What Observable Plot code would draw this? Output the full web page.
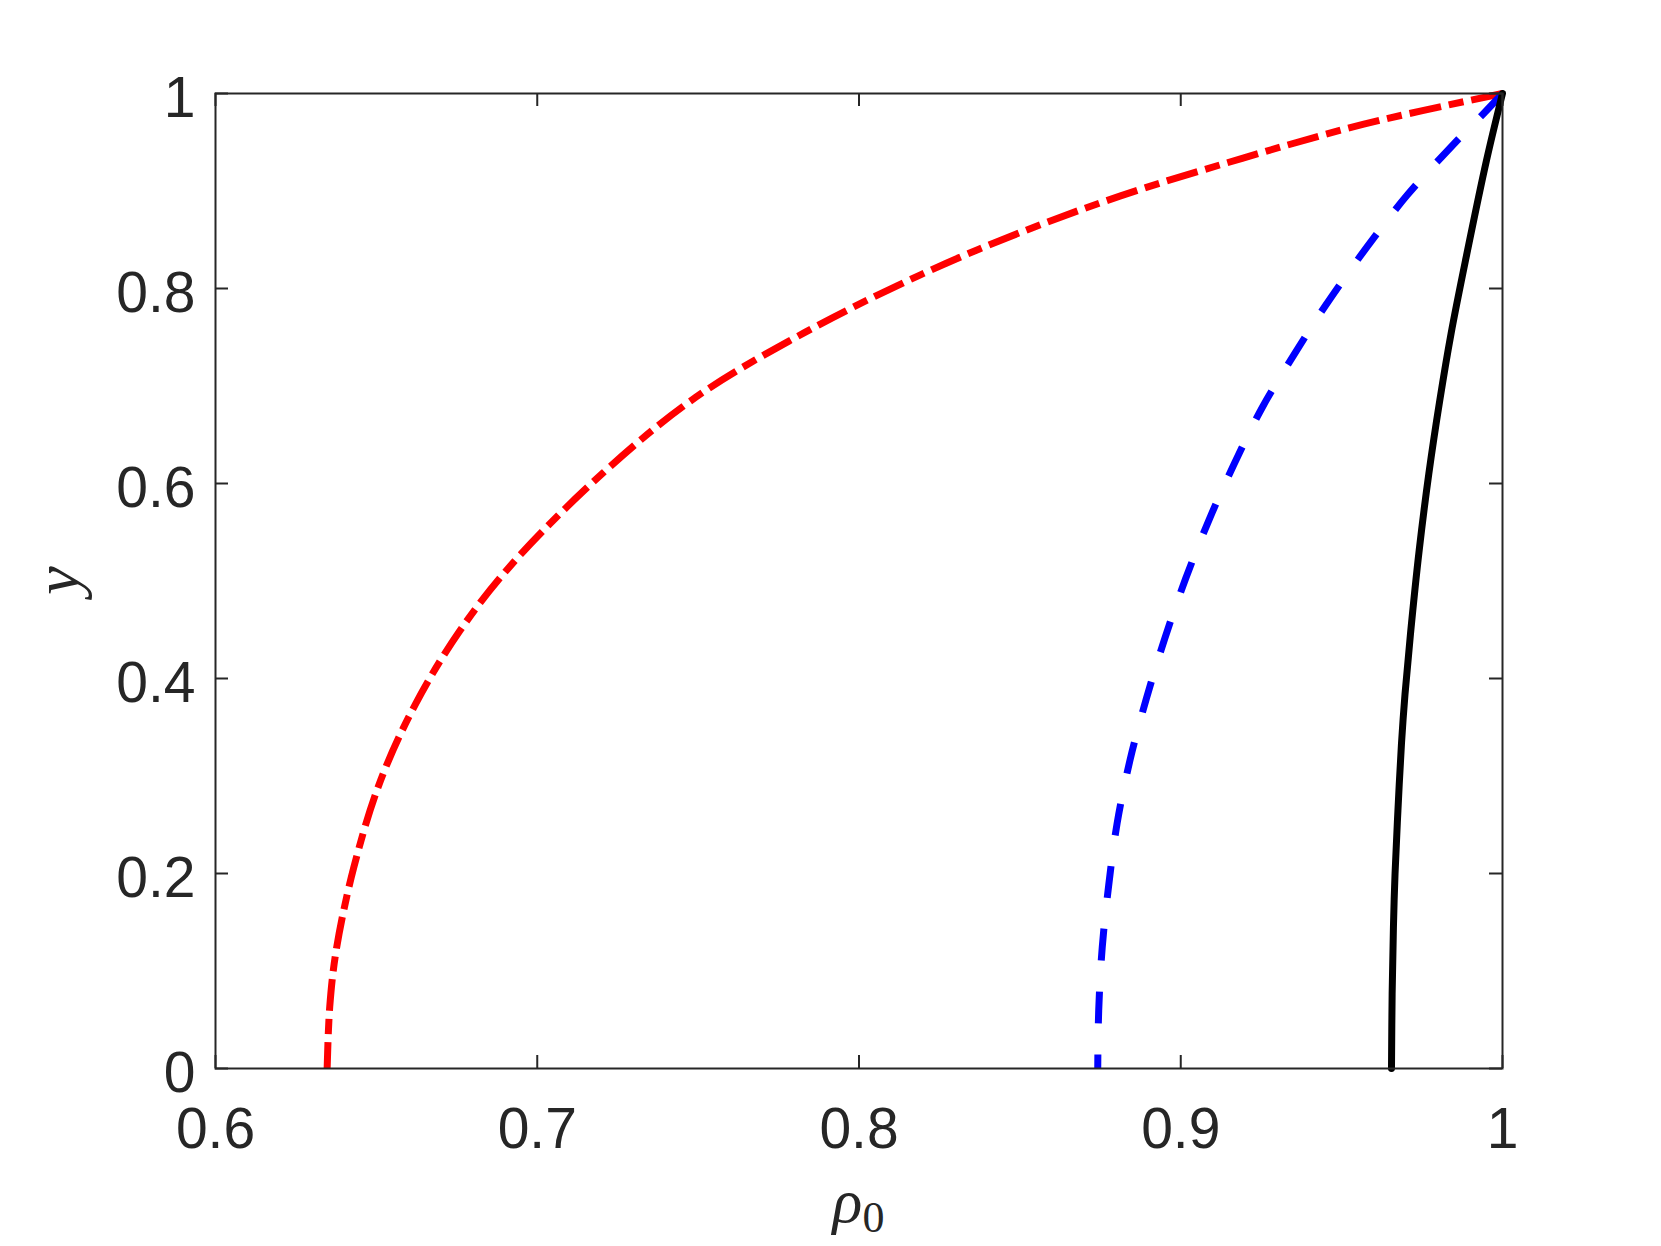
<!DOCTYPE html>
<html>
<head>
<meta charset="utf-8">
<script src="https://cdn.jsdelivr.net/npm/d3@7"></script>
<script src="https://cdn.jsdelivr.net/npm/@observablehq/plot@0.6"></script>
<style>
html, body { margin: 0; padding: 0; background: #ffffff; }
#chart svg { display: block; }
</style>
</head>
<body>
<div id="chart"></div>
<script>
// ---- tick values and labels ----
const xTicks = [0.6, 0.7, 0.8, 0.9, 1];
const xTickLabels = ["0.6", "0.7", "0.8", "0.9", "1"];
const yTicks = [0, 0.2, 0.4, 0.6, 0.8, 1];
const yTickLabels = ["0", "0.2", "0.4", "0.6", "0.8", "1"];

// ---- red dash-dot curve ----
const redRho = [0.6347, 0.6355, 0.6375, 0.6430, 0.6513, 0.6622, 0.6760, 0.6922, 0.7207, 0.7493,
                0.7829, 0.8191, 0.8491, 0.8813, 0.9191, 0.9569, 1.0];
const redY   = [0.0, 0.0630, 0.1210, 0.2065, 0.2954, 0.3740, 0.4492, 0.5176, 0.6116, 0.6885,
                0.7545, 0.8140, 0.8561, 0.8950, 0.9335, 0.9685, 1.0];

// ---- blue dashed curve ----
const blueRho = [0.8742, 0.8745, 0.8756, 0.8776, 0.8802, 0.8842, 0.8893, 0.8950, 0.9015, 0.9087,
                 0.9167, 0.9255, 0.9357, 0.9450, 0.9579, 0.9704, 0.9859, 0.9940, 1.0];
const blueY   = [0.0, 0.0595, 0.1244, 0.1877, 0.2510, 0.3159, 0.3792, 0.4407, 0.5022, 0.5620,
                 0.6208, 0.6790, 0.7347, 0.7826, 0.8427, 0.8958, 0.9518, 0.9790, 1.0];

// ---- black solid curve ----
const blackRho = [0.9655, 0.9657, 0.9661, 0.9666, 0.9675, 0.9686, 0.9697, 0.9714, 0.9741, 0.9771,
                  0.9805, 0.9840, 0.9887, 0.9950, 1.0];
const blackY   = [0.0, 0.0766, 0.1450, 0.1997, 0.2646, 0.3330, 0.3840, 0.4458, 0.5313, 0.6100,
                  0.6851, 0.7535, 0.8320, 0.9310, 1.0];

// ---- layout ----
const W = 1661, H = 1246;
const mL = 215, mR = 159, mT = 93, mB = 178;
const innerW = W - mL - mR, innerH = H - mT - mB;
const tickLen = 13;
const axisColor = "#262626";

// rows drawn from the top-right end downward (dash phase starts there)
const rows = (xs, ys) => xs.map((x, i) => ({rho: x, y: ys[i]})).reverse();

const plot = Plot.plot({
  width: W,
  height: H,
  marginLeft: mL,
  marginRight: mR,
  marginTop: mT,
  marginBottom: mB,
  x: {domain: [0.6, 1]},
  y: {domain: [0, 1]},
  style: {
    fontFamily: "'Liberation Sans', Arial, Helvetica, sans-serif",
    fontSize: "57px",
    color: axisColor,
    background: "#ffffff"
  },
  marks: [
    Plot.line(rows(redRho, redY), {
      x: "rho", y: "y", stroke: "#ff0000", strokeWidth: 7,
      strokeDasharray: "32,8,15,8", strokeLinecap: "butt", strokeLinejoin: "round",
      curve: "catmull-rom"
    }),
    Plot.line(rows(blueRho, blueY), {
      x: "rho", y: "y", stroke: "#0000ff", strokeWidth: 7,
      strokeDasharray: "32,31", strokeLinecap: "butt", strokeLinejoin: "round",
      curve: "catmull-rom"
    }),
    Plot.line(rows(blackRho, blackY), {
      x: "rho", y: "y", stroke: "#000000", strokeWidth: 7,
      strokeLinecap: "round", strokeLinejoin: "round",
      curve: "catmull-rom"
    }),
    Plot.frame({stroke: axisColor, strokeWidth: 2}),
    // inward ticks on all four sides
    Plot.tickX(xTicks, {x: d => d, stroke: axisColor, strokeWidth: 2, insetTop: innerH - tickLen}),
    Plot.tickX(xTicks, {x: d => d, stroke: axisColor, strokeWidth: 2, insetBottom: innerH - tickLen}),
    Plot.tickY(yTicks, {y: d => d, stroke: axisColor, strokeWidth: 2, insetRight: innerW - tickLen}),
    Plot.tickY(yTicks, {y: d => d, stroke: axisColor, strokeWidth: 2, insetLeft: innerW - tickLen}),
    Plot.axisX(xTicks, {
      anchor: "bottom", tickSize: 0, tickPadding: 39, label: null,
      tickFormat: d => xTickLabels[xTicks.indexOf(d)], fill: axisColor, fontSize: 57
    }),
    Plot.axisY(yTicks, {
      anchor: "left", tickSize: 0, tickPadding: 20, label: null, dy: 5,
      tickFormat: d => yTickLabels[yTicks.indexOf(d)], fill: axisColor, fontSize: 57
    })
  ]
});

document.getElementById("chart").appendChild(plot);

// ---- axis titles (LaTeX-like italic serif) ----
const svg = d3.select(plot);
const serif = "'Liberation Serif', 'Times New Roman', 'DejaVu Serif', serif";

const xl = svg.append("text")
  .attr("x", mL + innerW / 2)
  .attr("y", 1221.5)
  .attr("text-anchor", "middle")
  .attr("fill", axisColor)
  .style("font-family", serif)
  .style("font-size", "62px");
xl.append("tspan").style("font-style", "italic").text("ρ");
xl.append("tspan").attr("dy", 10.5).style("font-size", "44px").text("0");

svg.append("text")
  .attr("transform", `translate(78,${mT + innerH / 2}) rotate(-90)`)
  .attr("text-anchor", "middle")
  .attr("fill", axisColor)
  .style("font-family", serif)
  .style("font-size", "64px")
  .style("font-style", "italic")
  .text("y");
</script>
</body>
</html>
